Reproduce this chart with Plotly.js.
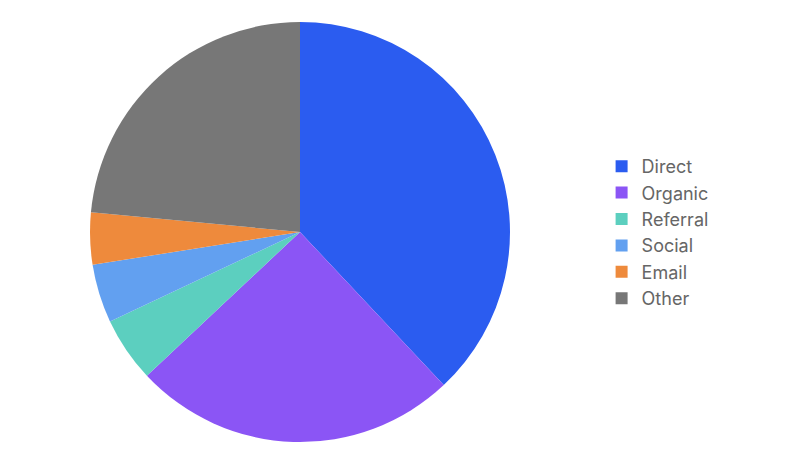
<!DOCTYPE html>
<html>
<head>
<meta charset="utf-8">
<script src="https://cdn.plot.ly/plotly-3.0.1.min.js"></script>
<style>
  html, body { margin: 0; padding: 0; background: #fff; }
  #chart { width: 800px; height: 465px; }
</style>
</head>
<body>
<div id="chart"></div>
<script>
// slice order runs clockwise from 12 o'clock
const labels = ['Direct', 'Organic', 'Referral', 'Social', 'Email', 'Other'];
const shares = [38, 25, 5, 4.5, 4, 23.5];
const colors = ['#2b5cf0', '#8b55f5', '#5ccfbf', '#62a0f0', '#ee8a3c', '#777777'];

const trace = {
  type: 'pie',
  labels: labels,
  values: shares,
  sort: false,
  direction: 'clockwise',
  rotation: 0,
  textinfo: 'none',
  hoverinfo: 'label+percent',
  marker: { colors: colors, line: { width: 0 } },
  domain: { x: [0.1125, 0.6375], y: [0.0495, 0.9527] }
};

const layout = {
  width: 800,
  height: 465,
  margin: { l: 0, r: 0, t: 0, b: 0 },
  paper_bgcolor: '#ffffff',
  showlegend: true,
  legend: {
    x: 0.752,
    y: 0.5,
    yanchor: 'middle',
    font: { family: 'Inter, "Open Sans", sans-serif', size: 18, color: '#666666' }
  }
};

Plotly.newPlot('chart', [trace], layout, { displayModeBar: false, staticPlot: true });
</script>
</body>
</html>
